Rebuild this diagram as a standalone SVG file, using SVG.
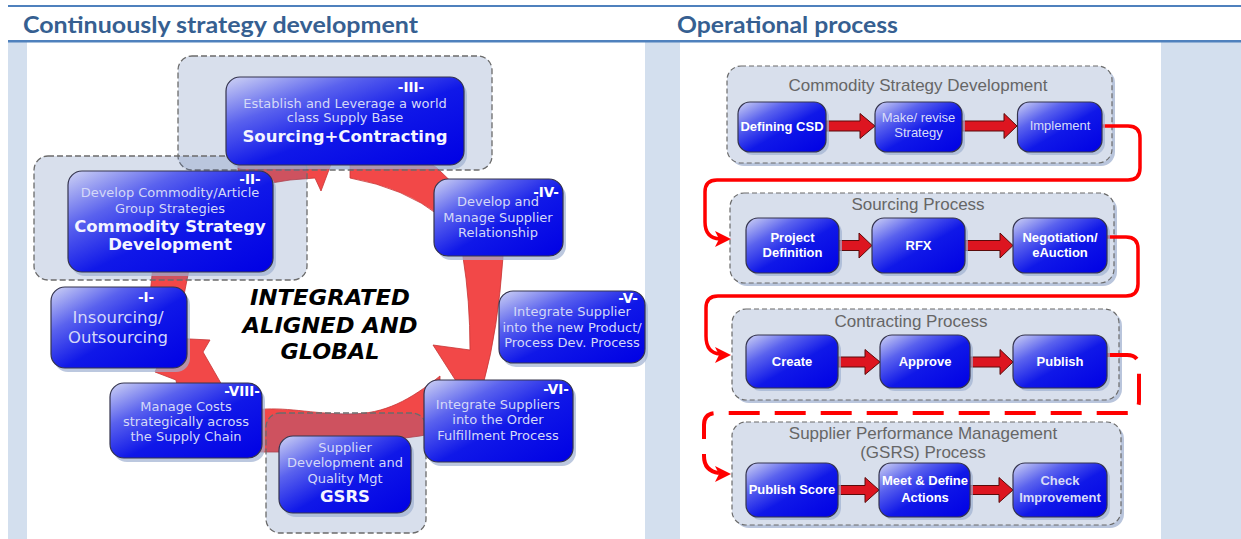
<svg xmlns="http://www.w3.org/2000/svg" width="1241" height="539" viewBox="0 0 1241 539">
<defs>
<linearGradient id="bxg" x1="0" y1="0" x2="1" y2="1">
<stop offset="0" stop-color="#D0D4F4"/>
<stop offset="0.28" stop-color="#5A62EE"/>
<stop offset="0.55" stop-color="#1018E8"/>
<stop offset="1" stop-color="#0000E4"/>
</linearGradient>
<style>
.hd{font-family:Lato,"Liberation Sans",sans-serif;font-weight:bold;font-size:23px;fill:#365F91}
.bx{fill:url(#bxg);stroke:#34344e;stroke-width:1.2}
.sh{fill:#9FB0D2;opacity:0.7}
.grp{fill:#5775AD;fill-opacity:0.23}
.grs{fill:none;stroke:#6b6b6b;stroke-width:1.3;stroke-dasharray:6 3}
.rg{fill:#D8DFEC;stroke:#6b6b6b;stroke-width:1.2;stroke-dasharray:5 3}
.rgs{fill:#B9C5DC}
.ring{fill:#F24848;stroke:#C53535;stroke-width:0.8}
.lt{font-family:"DejaVu Sans",Verdana,sans-serif;font-size:13px;fill:#D4D8F8;text-anchor:middle}
.lb{font-family:"DejaVu Sans",Verdana,sans-serif;font-size:16.5px;font-weight:bold;fill:#F4F4FF;text-anchor:middle}
.ln{font-family:"DejaVu Sans",Verdana,sans-serif;font-size:13.5px;font-weight:bold;fill:#FFFFFF;text-anchor:middle}
.ct{font-family:"DejaVu Sans",Verdana,sans-serif;font-size:22px;font-weight:bold;font-style:italic;fill:#000;text-anchor:middle}
.gt{font-family:"Liberation Sans",Arial,sans-serif;font-size:17px;fill:#666;text-anchor:middle}
.rb{font-family:"Liberation Sans",Arial,sans-serif;font-size:13px;font-weight:bold;fill:#fff;text-anchor:middle}
.rl{font-family:"Liberation Sans",Arial,sans-serif;font-size:13px;fill:#D8DCF8;text-anchor:middle}
.ba{fill:#DD1520;stroke:#5a0a0a;stroke-width:1}
.cn{fill:none;stroke:#FF0000;stroke-width:3.5}
.cd{fill:none;stroke:#FF0000;stroke-width:4;stroke-dasharray:31 15}
.ah{fill:#FF0000}
</style>
</defs>

<g id="background">
<rect width="1241" height="539" fill="#fff"/>
<rect x="8" y="42" width="1233" height="497" fill="#D3DFEE"/>
<rect x="27" y="42" width="618" height="497" fill="#fff"/>
<rect x="680" y="42" width="481" height="497" fill="#fff"/>
<rect x="8" y="5" width="1233" height="2" fill="#4F81BD"/>
<rect x="8" y="40" width="1233" height="2.5" fill="#4F81BD"/>
<text class="hd" x="23" y="33" textLength="395" lengthAdjust="spacingAndGlyphs">Continuously strategy development</text>
<text class="hd" x="677" y="33" textLength="221" lengthAdjust="spacingAndGlyphs">Operational process</text>
</g>

<g id="ring">
<path class="ring" d="M149,305 L154,255 L192,255 L182,305 Z"/>
<path class="ring" d="M238,158 L336,150 L330,167 L321,191 L315,178 L290,180 L265,184 L238,190 Z"/>
<path class="ring" d="M350,150 L350,178 Q405,188 440,216 L470,200 L437,168 L410,150 Z"/>
<path class="ring" d="M462,245 L463,257 Q470,300 470,350 L433,345 L456,381 L484,381 Q498,330 503,257 L503,245 Z"/>
<path class="ring" d="M440,376 C410,400 385,414 350,414 C310,414 285,406 255,410 L255,452 L300,452 L420,436 L440,432 Z"/>
<path class="ring" d="M178,392 L176,380 L155,372 L170,338 L210,340 L203,352 L226,392 Z"/>
</g>

<g id="group-III">
<rect class="grp" x="178" y="56" width="314" height="114" rx="14"/>
<rect class="grs" x="178" y="56" width="314" height="114" rx="14"/>
</g>
<g id="group-II">
<rect class="grp" x="34" y="156" width="273" height="124" rx="14"/>
<rect class="grs" x="34" y="156" width="273" height="124" rx="14"/>
</g>
<g id="group-GSRS">
<rect class="grp" x="266" y="413" width="160" height="120" rx="14"/>
<rect class="grs" x="266" y="413" width="160" height="120" rx="14"/>
</g>

<g id="node-I">
<rect class="sh" x="54" y="291" width="136" height="81" rx="14"/>
<rect class="bx" x="51" y="287" width="136" height="81" rx="14"/>
<text class="ln" x="146" y="302">-I-</text>
<text class="lt" x="118" y="323" style="font-size:16.5px">Insourcing/</text>
<text class="lt" x="118" y="343" style="font-size:16.5px">Outsourcing</text>
</g>
<g id="node-II">
<rect class="sh" x="71" y="175" width="205" height="101" rx="14"/>
<rect class="bx" x="68" y="171" width="205" height="101" rx="14"/>
<text class="ln" x="250" y="184">-II-</text>
<text class="lt" x="170" y="197">Develop Commodity/Article</text>
<text class="lt" x="170" y="213">Group Strategies</text>
<text class="lb" x="170" y="232">Commodity Strategy</text>
<text class="lb" x="170" y="250">Development</text>
</g>
<g id="node-III">
<rect class="sh" x="229" y="81" width="238" height="88" rx="14"/>
<rect class="bx" x="226" y="77" width="238" height="88" rx="14"/>
<text class="ln" x="411" y="92">-III-</text>
<text class="lt" x="345" y="108">Establish and Leverage a world</text>
<text class="lt" x="345" y="122">class Supply Base</text>
<text class="lb" x="345" y="142">Sourcing+Contracting</text>
</g>
<g id="node-IV">
<rect class="sh" x="437" y="183" width="129" height="77" rx="14"/>
<rect class="bx" x="434" y="179" width="129" height="77" rx="14"/>
<text class="ln" x="546" y="197">-IV-</text>
<text class="lt" x="498" y="206">Develop and</text>
<text class="lt" x="498" y="222">Manage Supplier</text>
<text class="lt" x="498" y="237">Relationship</text>
</g>
<g id="node-V">
<rect class="sh" x="502" y="295" width="146" height="72" rx="14"/>
<rect class="bx" x="499" y="291" width="146" height="72" rx="14"/>
<text class="ln" x="628" y="303">-V-</text>
<text class="lt" x="572" y="316">Integrate Supplier</text>
<text class="lt" x="572" y="332">into the new Product/</text>
<text class="lt" x="572" y="347">Process Dev. Process</text>
</g>
<g id="node-VI">
<rect class="sh" x="427" y="384" width="149" height="82" rx="14"/>
<rect class="bx" x="424" y="380" width="149" height="82" rx="14"/>
<text class="ln" x="556" y="394">-VI-</text>
<text class="lt" x="498" y="409">Integrate Suppliers</text>
<text class="lt" x="498" y="424">into the Order</text>
<text class="lt" x="498" y="440">Fulfillment Process</text>
</g>
<g id="node-VII">
<rect class="sh" x="282" y="440" width="132" height="77" rx="14"/>
<rect class="bx" x="279" y="436" width="132" height="77" rx="14"/>
<text class="lt" x="345" y="452">Supplier</text>
<text class="lt" x="345" y="467">Development and</text>
<text class="lt" x="345" y="483">Quality Mgt</text>
<text class="lb" x="345" y="502">GSRS</text>
</g>
<g id="node-VIII">
<rect class="sh" x="113" y="387" width="152" height="75" rx="14"/>
<rect class="bx" x="110" y="383" width="152" height="75" rx="14"/>
<text class="ln" x="242" y="396">-VIII-</text>
<text class="lt" x="186" y="411">Manage Costs</text>
<text class="lt" x="186" y="426">strategically across</text>
<text class="lt" x="186" y="441">the Supply Chain</text>
</g>
<g id="center-label">
<text class="ct" x="330" y="305" textLength="160" lengthAdjust="spacingAndGlyphs">INTEGRATED</text>
<text class="ct" x="330" y="333" textLength="175" lengthAdjust="spacingAndGlyphs">ALIGNED AND</text>
<text class="ct" x="330" y="359" textLength="99" lengthAdjust="spacingAndGlyphs">GLOBAL</text>
</g>

<g id="group-csd">
<rect class="rgs" x="730" y="69" width="385" height="97" rx="14"/>
<rect class="rg" x="727" y="66" width="385" height="97" rx="14"/>
<text class="gt" x="918" y="91">Commodity Strategy Development</text>
</g>
<g id="group-sourcing">
<rect class="rgs" x="733" y="196" width="384" height="90" rx="14"/>
<rect class="rg" x="730" y="193" width="384" height="90" rx="14"/>
<text class="gt" x="918" y="210">Sourcing Process</text>
</g>
<g id="group-contracting">
<rect class="rgs" x="735" y="312" width="387" height="91" rx="14"/>
<rect class="rg" x="732" y="309" width="387" height="91" rx="14"/>
<text class="gt" x="911" y="327">Contracting Process</text>
</g>
<g id="group-spm">
<rect class="rgs" x="735" y="425" width="389" height="103" rx="14"/>
<rect class="rg" x="732" y="422" width="389" height="103" rx="14"/>
<text class="gt" x="923" y="439">Supplier Performance Management</text>
<text class="gt" x="923" y="458">(GSRS) Process</text>
</g>

<g id="connectors">
<path class="ba" d="M826,121 H860 V113.5 L875,126 L860,138.5 V131 H826 Z"/>
<path class="ba" d="M962,121 H1004 V113.5 L1017,126 L1004,138.5 V131 H962 Z"/>
<path class="ba" d="M839,240.5 H859 V233 L872,245.5 L859,258 V250.5 H839 Z"/>
<path class="ba" d="M965,240.5 H1000 V233 L1013,245.5 L1000,258 V250.5 H965 Z"/>
<path class="ba" d="M838,357 H865 V349.5 L880,362 L865,374.5 V367 H838 Z"/>
<path class="ba" d="M970,357 H1000 V349.5 L1013,362 L1000,374.5 V367 H970 Z"/>
<path class="ba" d="M838,485.5 H865 V477.5 L879,490 L865,502.5 V494.5 H838 Z"/>
<path class="ba" d="M970,485.5 H999 V477.5 L1013,490 L999,502.5 V494.5 H970 Z"/>
<path class="cn" d="M1102,126 H1128 Q1140,126 1140,138 V168 Q1140,180 1128,180 H717 Q705,180 705,192 V222 Q705,238 720,239"/>
<path class="ah" d="M731,239 L715,231 L719,239 L715,247 Z"/>
<path class="cn" d="M1107,237 H1126 Q1138,237 1138,249 V284 Q1138,296 1126,296 H718 Q706,296 706,308 V336 Q706,353 720,354"/>
<path class="ah" d="M731,355 L715,347 L719,355 L715,363 Z"/>
<path class="cd" d="M1107,355 H1127 Q1139,355 1139,367 V401 Q1139,413 1127,413 H716 Q704,413 704,425 V456 Q704,471 719,473"/>
<path class="ah" d="M731,474 L715,466 L719,474 L715,482 Z"/>
</g>

<g id="node-defining-csd">
<rect class="sh" x="741" y="105" width="88" height="50" rx="12"/>
<rect class="bx" x="738" y="102" width="88" height="50" rx="12"/>
<text class="rb" x="782" y="131">Defining CSD</text>
</g>
<g id="node-make-revise">
<rect class="sh" x="878" y="105" width="87" height="50" rx="12"/>
<rect class="bx" x="875" y="102" width="87" height="50" rx="12"/>
<text class="rl" x="918.5" y="122">Make/ revise</text>
<text class="rl" x="918.5" y="137">Strategy</text>
</g>
<g id="node-implement">
<rect class="sh" x="1020.5" y="105" width="84.5" height="50" rx="12"/>
<rect class="bx" x="1017.5" y="102" width="84.5" height="50" rx="12"/>
<text class="rl" x="1060" y="130">Implement</text>
</g>
<g id="node-project-definition">
<rect class="sh" x="749" y="221" width="93" height="55" rx="12"/>
<rect class="bx" x="746" y="218" width="93" height="55" rx="12"/>
<text class="rb" x="792.5" y="242">Project</text>
<text class="rb" x="792.5" y="257">Definition</text>
</g>
<g id="node-rfx">
<rect class="sh" x="875" y="221" width="93" height="55" rx="12"/>
<rect class="bx" x="872" y="218" width="93" height="55" rx="12"/>
<text class="rb" x="918.5" y="249.5">RFX</text>
</g>
<g id="node-negotiation">
<rect class="sh" x="1016" y="221" width="94" height="55" rx="12"/>
<rect class="bx" x="1013" y="218" width="94" height="55" rx="12"/>
<text class="rb" x="1060" y="242">Negotiation/</text>
<text class="rb" x="1060" y="257">eAuction</text>
</g>
<g id="node-create">
<rect class="sh" x="749" y="338" width="92" height="53" rx="12"/>
<rect class="bx" x="746" y="335" width="92" height="53" rx="12"/>
<text class="rb" x="792" y="366">Create</text>
</g>
<g id="node-approve">
<rect class="sh" x="883" y="338" width="90" height="53" rx="12"/>
<rect class="bx" x="880" y="335" width="90" height="53" rx="12"/>
<text class="rb" x="925" y="366">Approve</text>
</g>
<g id="node-publish">
<rect class="sh" x="1016" y="338" width="94" height="53" rx="12"/>
<rect class="bx" x="1013" y="335" width="94" height="53" rx="12"/>
<text class="rb" x="1060" y="366">Publish</text>
</g>
<g id="node-publish-score">
<rect class="sh" x="749" y="466" width="92" height="54" rx="12"/>
<rect class="bx" x="746" y="463" width="92" height="54" rx="12"/>
<text class="rb" x="792" y="493.5">Publish Score</text>
</g>
<g id="node-meet-define">
<rect class="sh" x="882" y="466" width="91" height="54" rx="12"/>
<rect class="bx" x="879" y="463" width="91" height="54" rx="12"/>
<text class="rb" x="925" y="485">Meet &amp; Define</text>
<text class="rb" x="925" y="502">Actions</text>
</g>
<g id="node-check-improvement">
<rect class="sh" x="1016" y="466" width="94" height="54" rx="12"/>
<rect class="bx" x="1013" y="463" width="94" height="54" rx="12"/>
<text class="rb" x="1060" y="485" style="fill:#D8DCF8">Check</text>
<text class="rb" x="1060" y="502" style="fill:#D8DCF8">Improvement</text>
</g>
</svg>
